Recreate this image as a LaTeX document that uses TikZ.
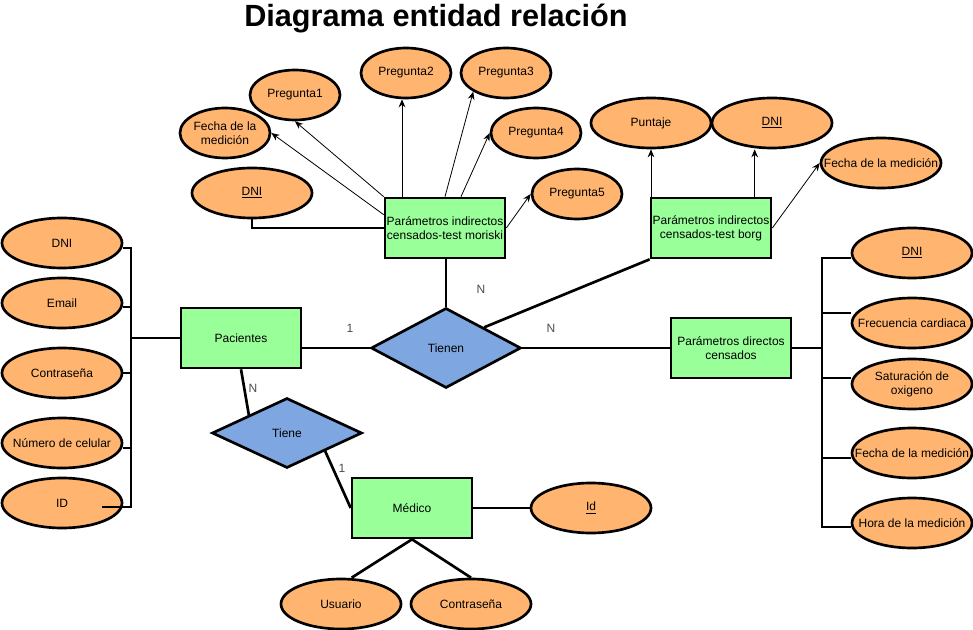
\documentclass[tikz,border=0pt]{standalone}
\usepackage{fontspec}
\setmainfont{Liberation Sans}
\usetikzlibrary{positioning,arrows.meta,shapes.geometric}

\definecolor{attrorange}{HTML}{FFB570}
\definecolor{entgreen}{HTML}{99FF99}
\definecolor{relblue}{HTML}{7EA6E0}

\begin{document}
\begin{tikzpicture}[
      x=0.75pt, y=-0.75pt,
      every node/.style={font=\fontsize{9}{10.5}\selectfont, align=center},
      entity/.style={draw, line width=2pt, fill=entgreen, minimum width=90pt, minimum height=45pt, inner sep=1pt},
      attr/.style={ellipse, draw, line width=2pt, fill=attrorange, minimum width=90pt, minimum height=37.5pt, inner xsep=-15pt, inner ysep=0pt},
      sattr/.style={attr, minimum width=67.5pt},
      rel/.style={diamond, draw, line width=2pt, fill=relblue, minimum width=112.5pt, minimum height=60pt, inner sep=0pt},
      link/.style={line width=2pt},
      arrow/.style={-{Stealth[length=6pt,width=5pt]}, line width=0.6pt},
      card/.style={text=black!70},
    ]
    \useasboundingbox (0,0) rectangle (973,630);

    % Title
    \node[font=\bfseries\fontsize{23}{27}\selectfont] (title) at (436,19) {Diagrama entidad relación};

    % Entities
    \node[entity] (pac) at (241,338) {Pacientes};
    \node[entity] (mor) at (445,228) {Parámetros indirectos\\censados-test moriski};
    \node[entity] (borg) at (711,228) {Parámetros indirectos\\censados-test borg};
    \node[entity] (dir) at (731,348) {Parámetros directos\\censados};
    \node[entity] (med) at (412,508) {Médico};

    % Relations
    \node[rel] (tienen) at (446,348) {Tienen};
    \node[rel, minimum height=52.5pt] (tiene) at (287,433) {Tiene};

    % Pacientes attributes
    \node[attr] (pdni) at (62,243) {DNI};
    \node[attr, below=5.5pt of pdni] (pmail) {Email};
    \node[attr, below=13pt of pmail] (ppass) {Contraseña};
    \node[attr, below=13pt of ppass] (pcel) {Número de celular};
    \node[attr, below=5.5pt of pcel] (pid) {ID};

    % Moriski attributes
    \node[attr] (mdni) at (252,193) {\underline{DNI}};
    \node[sattr] (mfecha) at (225,133) {Fecha de la\\medición};
    \node[sattr] (p1) at (295,95) {Pregunta1};
    \node[sattr] (p2) at (406,73) {Pregunta2};
    \node[sattr] (p3) at (506,73) {Pregunta3};
    \node[sattr] (p4) at (536,133) {Pregunta4};
    \node[sattr] (p5) at (577,194) {Pregunta5};

    % Borg attributes
    \node[attr] (bpunt) at (651,123) {Puntaje};
    \node[attr] (bdni) at (772,123) {\underline{DNI}};
    \node[attr] (bfecha) at (881,163) {Fecha de la medición};

    % Directos attributes
    \node[attr] (ddni) at (912,253) {\underline{DNI}};
    \node[attr, below=13pt of ddni] (dfrec) {Frecuencia cardiaca};
    \node[attr, below=6.25pt of dfrec] (dsat) {Saturación de\\oxigeno};
    \node[attr, below=12.25pt of dsat] (dfecha) {Fecha de la medición};
    \node[attr, below=13pt of dfecha] (dhora) {Hora de la medición};

    % Médico attributes
    \node[attr] (mid) at (591,508) {\underline{Id}};
    \node[attr] (musu) at (341,604) {Usuario};
    \node[attr] (mpass) at (471,604) {Contraseña};

    % Pacientes links
    \coordinate (lbus) at (131,338);
    \draw[link] (pac.west) -- (lbus);
    \draw[link] ([yshift=-3.75pt]pdni.east) -| (lbus);
    \draw[link] ([yshift=-3pt]pmail.east) -| (lbus);
    \draw[link] (ppass.east) -| (lbus);
    \draw[link] ([yshift=-3.75pt]pcel.east) -| (lbus);
    \draw[link] ([xshift=-16pt,yshift=-3pt]pid.east) -| (lbus);

    % Moriski links
    \draw[link] (mdni.south) |- (mor.west);
    \draw[arrow] ([yshift=10pt]mor.west) -- (mfecha.east);
    \draw[arrow] (mor.north west) -- (p1.south);
    \draw[arrow] ([xshift=-3pt]p2.south |- mor.north) -- ([xshift=-3pt]p2.south);
    \draw[arrow] (mor.north) -- (p3.south west);
    \draw[arrow] ([xshift=12pt]mor.north) -- (p4.west);
    \draw[arrow] (mor.east) -- (p5.west);

    % Borg links
    \draw[arrow] (bpunt.south |- borg.north) -- (bpunt.south);
    \draw[arrow] ([xshift=-13pt]bdni.south |- borg.north) -- ([xshift=-13pt]bdni.south);
    \draw[arrow] (borg.east) -- (bfecha.west);

    % Directos links
    \coordinate (rbus) at (822,348);
    \draw[link] (dir.east) -- (rbus);
    \draw[link] ([yshift=-3.75pt]ddni.west) -| (rbus);
    \draw[link] ([yshift=7.5pt]dfrec.west) -| (rbus);
    \draw[link] ([yshift=4.5pt]dsat.west) -| (rbus);
    \draw[link] ([yshift=-3.75pt]dfecha.west) -| (rbus);
    \draw[link] ([yshift=-3pt]dhora.west) -| (rbus);

    % Tienen links
    \draw[link] ([yshift=-7.5pt]pac.east) -- (tienen.west);
    \draw[link] (tienen.north) -- (tienen.north |- mor.south);
    \draw[link] (tienen.north east) -- (borg.south west);
    \draw[link] (tienen.east) -- (dir.west);

    % Tiene and Médico links
    \draw[link] (pac.south) -- (tiene.north west);
    \draw[link] (tiene.south east) -- (med.west);
    \draw[link] (med.east) -- (mid.west);
    \draw[link] (med.south) -- ([xshift=8pt]musu.north);
    \draw[link] (med.south) -- (mpass.north);

    % Cardinalities
    \node[card] (c1) at (350,328) {1};
    \node[card] (c2) at (481,289) {N};
    \node[card] (c3) at (551,328) {N};
    \node[card] (c4) at (253,388) {N};
    \node[card] (c5) at (342,468) {1};
  \end{tikzpicture}
\end{document}
